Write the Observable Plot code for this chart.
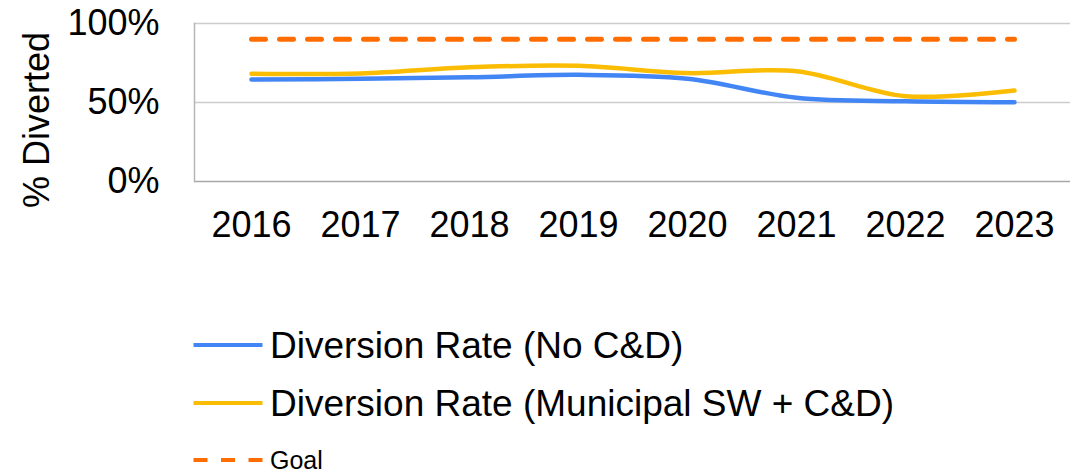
<!DOCTYPE html>
<html>
<head>
<meta charset="utf-8">
<script src="https://cdn.jsdelivr.net/npm/d3@7"></script>
<script src="https://cdn.jsdelivr.net/npm/@observablehq/plot@0.6"></script>
<style>
  body { margin: 0; background: #fff; font-family: "Liberation Sans", Arial, sans-serif; }
  #wrap { position: relative; width: 1086px; height: 475px; overflow: hidden; background: #fff; }
  #chart { position: absolute; left: 0; top: 0; }
  .ylabel { position: absolute; left: 37px; top: 120px; transform: translate(-50%, -50%) rotate(-90deg);
            white-space: nowrap; font-size: 36px; line-height: 1; color: #000; }
  .leg-text { position: absolute; white-space: nowrap; line-height: 1; color: #000; }
  .leg-swatch { position: absolute; overflow: visible; }
</style>
</head>
<body>
<div id="wrap">
  <div id="chart"></div>
  <div class="ylabel">% Diverted</div>
</div>
<script>
// ---- data ----
const years = ["2016", "2017", "2018", "2019", "2020", "2021", "2022", "2023"];
const noCD = [64.5, 65, 66, 67.5, 65, 53, 50.8, 50.2];            // Diversion Rate (No C&D)
const municipal = [68.2, 68.4, 72.3, 73.2, 68.6, 69.8, 54, 57.6];  // Diversion Rate (Municipal SW + C&D)
const goal = [90, 90, 90, 90, 90, 90, 90, 90];                     // Goal
const yTicks = [0, 50, 100];
const seriesNames = ["Diversion Rate (No C&D)", "Diversion Rate (Municipal SW + C&D)", "Goal"];
const seriesColors = ["#4285F4", "#FBBC04", "#FF6D01"];

const rowsOf = (vals) => years.map((y, i) => ({year: y, value: vals[i]}));

const chart = Plot.plot({
  width: 1086,
  height: 300,
  marginLeft: 194,
  marginRight: 16,
  marginTop: 23,
  marginBottom: 119,
  style: { fontFamily: '"Liberation Sans", Arial, sans-serif', fontSize: "36px", color: "#000", background: "transparent", overflow: "visible" },
  x: { type: "point", domain: years, padding: 0.5, label: null },
  y: { domain: [0, 100], label: null },
  marks: [
    Plot.ruleY(yTicks.filter(d => d > 0), { stroke: "#cccccc", strokeWidth: 1.5 }),
    Plot.ruleY([0], { stroke: "#a8a8a8", strokeWidth: 1.5 }),
    Plot.frame({ anchor: "left", stroke: "#b5b5b5", strokeWidth: 1.5 }),
    Plot.axisY(yTicks, { tickSize: 0, tickPadding: 35, tickFormat: d => d + "%", label: null, fontSize: 36 }),
    Plot.axisX({ tickSize: 0, tickPadding: 30, label: null, fontSize: 36 }),
    Plot.line(rowsOf(noCD), { x: "year", y: "value", stroke: seriesColors[0], strokeWidth: 4.5, curve: "catmull-rom" }),
    Plot.line(rowsOf(municipal), { x: "year", y: "value", stroke: seriesColors[1], strokeWidth: 4.5, curve: "catmull-rom" }),
    Plot.line(rowsOf(goal), { x: "year", y: "value", stroke: seriesColors[2], strokeWidth: 5, strokeDasharray: "14,14" })
  ]
});
document.getElementById("chart").appendChild(chart);

// ---- legend (HTML below the plot) ----
const legendRows = [
  { name: seriesNames[0], color: seriesColors[0], dash: null, fs: 37, cy: 345 },
  { name: seriesNames[1], color: seriesColors[1], dash: null, fs: 37, cy: 403 },
  { name: seriesNames[2], color: seriesColors[2], dash: "14,13.5", fs: 25, cy: 460 }
];
const wrap = document.getElementById("wrap");
const NS = "http://www.w3.org/2000/svg";
legendRows.forEach(r => {
  const sw = document.createElementNS(NS, "svg");
  sw.setAttribute("class", "leg-swatch");
  sw.setAttribute("width", 72);
  sw.setAttribute("height", 10);
  sw.style.left = "192px";
  sw.style.top = (r.cy - 5) + "px";
  const ln = document.createElementNS(NS, "line");
  ln.setAttribute("x1", 1.5); ln.setAttribute("x2", 70.5);
  ln.setAttribute("y1", 5); ln.setAttribute("y2", 5);
  ln.setAttribute("stroke", r.color);
  ln.setAttribute("stroke-width", 4);
  if (r.dash) ln.setAttribute("stroke-dasharray", r.dash);
  sw.appendChild(ln);
  wrap.appendChild(sw);
  const t = document.createElement("div");
  t.className = "leg-text";
  t.textContent = r.name;
  t.style.fontSize = r.fs + "px";
  t.style.left = "270px";
  t.style.top = (r.cy - 0.4885 * r.fs) + "px";
  wrap.appendChild(t);
});
</script>
</body>
</html>
